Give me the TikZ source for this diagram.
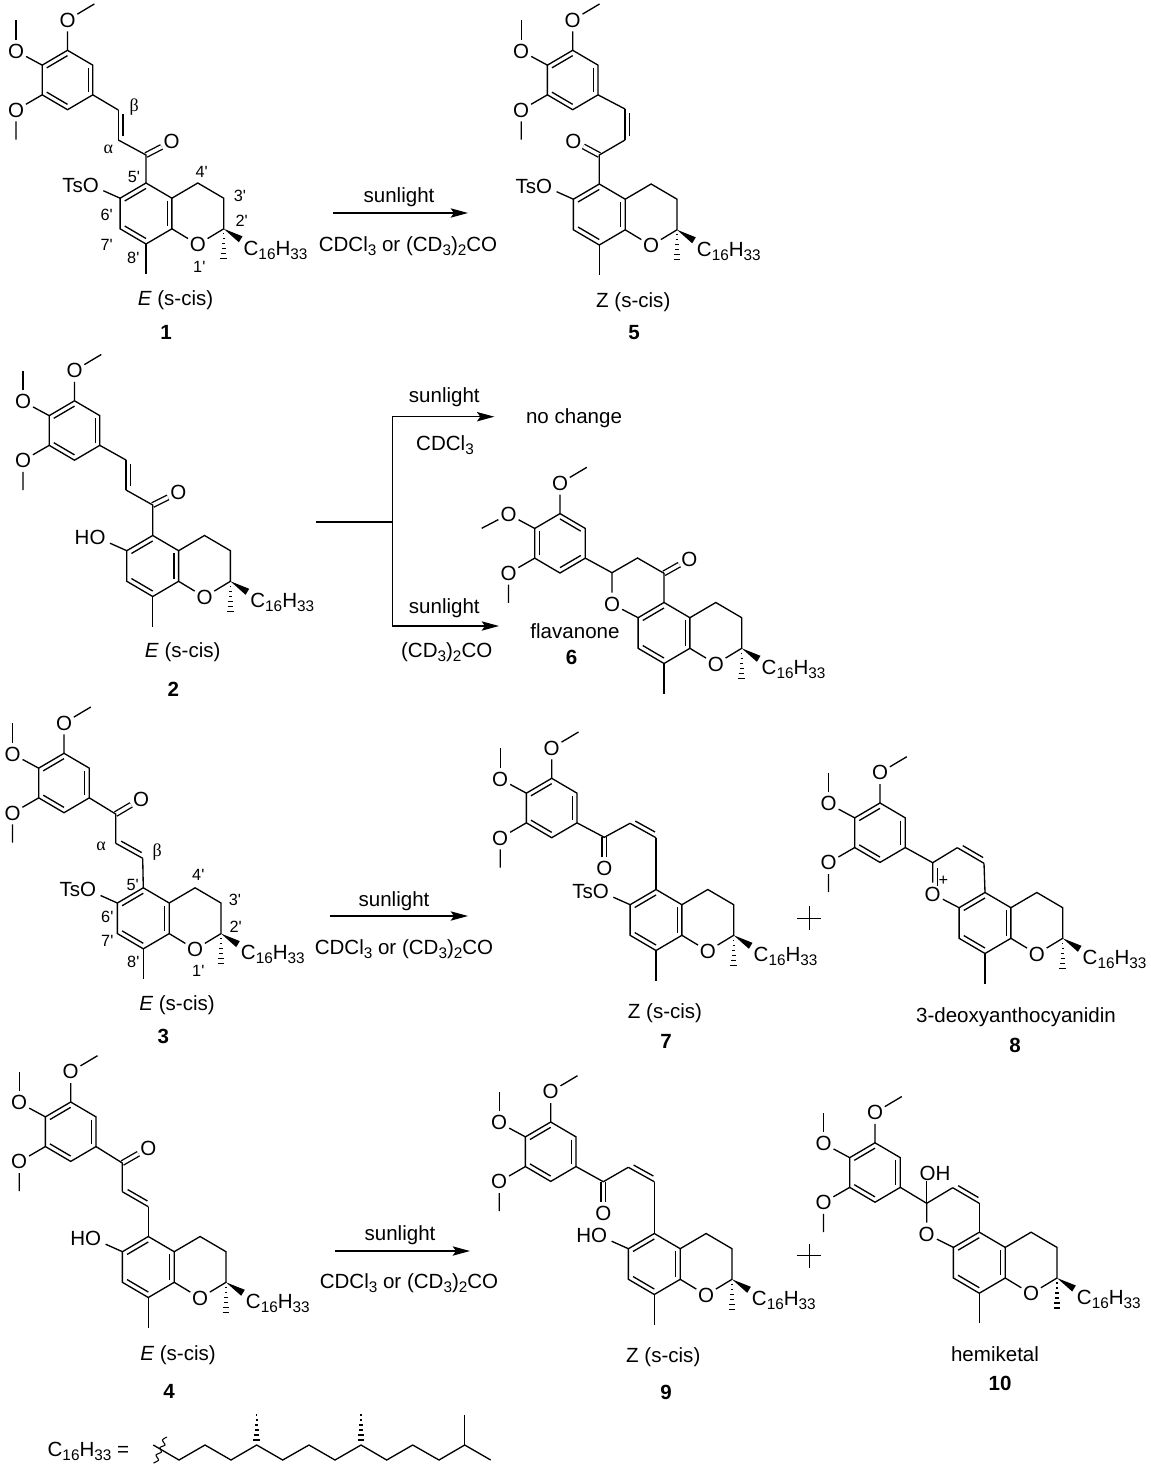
\documentclass[tikz,border=0pt]{standalone}
\usepackage{fontspec}
\setmainfont{Liberation Sans}
\newfontfamily\grkfont{Liberation Serif}
\usetikzlibrary{calc,arrows.meta}

\tikzset{every picture/.style={line width=1pt}}
\tikzset{
	atom/.style={circle,inner sep=0pt,font=\fontsize{15.4}{18}\selectfont},
	lab/.style={inner sep=0pt,font=\fontsize{15.4}{18}\selectfont},
	numlab/.style={inner sep=0pt,font=\fontsize{12.2}{14}\selectfont},
	grklab/.style={inner sep=0pt,font=\fontsize{13.5}{14}\selectfont\grkfont},
	rxn/.style={-{Stealth[length=13pt,width=7pt,inset=2.5pt]}},
	hash/.style={line width=0.8pt},
	cdouble/.style={double,double distance=2.6pt}
}

\newcommand{\sbs}[1]{\raisebox{-3pt}{\fontsize{11.5}{12}\selectfont #1}}
\newcommand{\prm}{\textquotesingle}
\newcommand{\inb}[3]{\draw ($(#1)!.18!(#3)$) -- ($(#2)!.18!(#3)$);}
\newcommand{\cdbl}[2]{\draw (#1) -- (#2); \draw ($(#1)!.12!(#2)!3.4pt!90:(#2)$) -- ($(#2)!.12!(#1)!3.4pt!-90:(#1)$);}

\newcommand{\arylatoms}{
	\coordinate (acen) at (0,0);
	\coordinate (a1) at (0,-29.7);
	\coordinate (a2) at (25.3,-14.85);
	\coordinate (a3) at (25.3,14.85);
	\coordinate (a4) at (0,29.7);
	\coordinate (a5) at (-25.3,14.85);
	\coordinate (a6) at (-25.3,-14.85);
	\node[atom] (otop) at (0,-60) {O};
	\node[atom] (oleft) at (-51.5,-29) {O};
	\node[atom] (olow) at (-51.5,30) {O};
	\coordinate (metop) at (26.8,-76);
	\coordinate (melow) at (-51.5,59.5);
	\draw (a1) -- (a2) -- (a3) -- (a4) -- (a5) -- (a6) -- cycle;
	\draw (a1) -- (otop) -- (metop);
	\draw (a6) -- (oleft);
	\draw (a5) -- (olow) -- (melow);
}
\newcommand{\arylA}[1]{
	\begin{scope}[shift={(#1)}]
		\arylatoms
		\coordinate (meleft) at (-51.5,-60);
		\draw (oleft) -- (meleft);
		\inb{a6}{a1}{acen}
		\inb{a2}{a3}{acen}
		\inb{a4}{a5}{acen}
	\end{scope}
}
\newcommand{\arylB}[1]{
	\begin{scope}[shift={(#1)}]
		\arylatoms
		\coordinate (meleft) at (-78.3,-15);
		\draw (oleft) -- (meleft);
		\inb{a1}{a2}{acen}
		\inb{a3}{a4}{acen}
		\inb{a5}{a6}{acen}
	\end{scope}
}
\newcommand{\chromane}[1]{
	\begin{scope}[shift={(#1)}]
		\coordinate (cen) at (0,0);
		\coordinate (c5) at (0,-30.5);
		\coordinate (c4a) at (25.9,-15.3);
		\coordinate (c8a) at (25.9,15.3);
		\coordinate (c8) at (0,30.5);
		\coordinate (c7) at (-25.9,15.3);
		\coordinate (c6) at (-25.9,-15.3);
		\coordinate (c4) at (51.8,-30.5);
		\coordinate (c3) at (77.7,-15.3);
		\coordinate (c2) at (77.7,15.3);
		\coordinate (me8) at (0,60.5);
		\coordinate (osub) at (-42.7,-22.8);
		\coordinate (subend) at (-46.5,-28.5);
		\node[atom] (o1) at (51.8,31) {O};
		\node[lab,anchor=base west] (chain) at (97,41.5) {C\sbs{16}H\sbs{33}};
		\draw (c5) -- (c4a) -- (c8a) -- (c8) -- (c7) -- (c6) -- cycle;
		\draw (c4a) -- (c4) -- (c3) -- (c2) -- (o1) -- (c8a);
		\draw (c8) -- (me8);
		\inb{c5}{c6}{cen}
		\inb{c4a}{c8a}{cen}
		\inb{c7}{c8}{cen}
		\fill (c2) -- (96.5,22.8) -- (92.9,28.8) -- cycle;
		\foreach \i in {1,...,6}
			\draw[hash] ({77.7-\i*.55},{15.3+\i*5}) -- ({77.7+\i*.55},{15.3+\i*5});
	\end{scope}
}
\newcommand{\sixsub}[1]{
	\node[lab,anchor=east] (sub) at (subend) {#1};
	\draw (c6) -- (osub);
}

\begin{document}
\begin{tikzpicture}[x=0.75pt,y=0.75pt,yscale=-1,xscale=1]
	\useasboundingbox (0,0) rectangle (1150,1470);

	% compound 1
	\begin{scope}[name prefix=m1-]
		\arylA{67.5,80}
		\chromane{146,213.5}
		\sixsub{TsO}
		\coordinate (cb) at (118.3,110);
		\coordinate (ca) at (118.3,140);
		\coordinate (co) at (146,155);
		\node[atom] (oc) at (171.7,141.7) {O};
		\draw[cdouble] (co) -- (oc);
		\draw (a3) -- (cb);
		\cdbl{ca}{cb}
		\draw (ca) -- (co) -- (c5);
		\node[grklab] (alpha) at (108.3,149.3) {α};
		\node[grklab] (beta) at (134.3,107.3) {β};
		\foreach \n/\x/\y in {1/199.3/267.3,2/241.7/221,3/240/195.7,4/201.7/171.7,5/134/176.7,6/106.7/215,7/106.7/245,8/133.3/258.3}
			\node[numlab] (n\n) at (\x,\y) {\n\prm};
		\node[lab] (form) at (175.5,300) {\textit{E} (s-cis)};
		\node[lab] (num) at (166,332.7) {\textbf{1}};
	\end{scope}

	% compound 5
	\begin{scope}[name prefix=m5-]
		\arylA{572.7,80}
		\chromane{599.3,214.5}
		\sixsub{TsO}
		\coordinate (cb) at (625,109);
		\coordinate (ca) at (625,140);
		\coordinate (co) at (599.3,155);
		\node[atom] (oc) at (573.3,141) {O};
		\draw[cdouble] (co) -- (oc);
		\draw (a3) -- (cb);
		\cdbl{ca}{cb}
		\draw (ca) -- (co) -- (c5);
		\node[lab] (form) at (633.3,301.7) {Z (s-cis)};
		\node[lab] (num) at (634,332.7) {\textbf{5}};
	\end{scope}

	% compound 2
	\begin{scope}[name prefix=m2-]
		\arylA{74.5,430.5}
		\chromane{152.7,566}
		\sixsub{HO}
		\coordinate (cb) at (126,460);
		\coordinate (ca) at (126,490);
		\coordinate (co) at (152.7,505);
		\node[atom] (oc) at (178.3,492.3) {O};
		\draw[cdouble] (co) -- (oc);
		\draw (a3) -- (cb);
		\cdbl{ca}{cb}
		\draw (ca) -- (co) -- (c5);
		\node[lab] (form) at (182.7,651.7) {\textit{E} (s-cis)};
		\node[lab] (num) at (173.3,689.3) {\textbf{2}};
	\end{scope}

	% compound 6
	\begin{scope}[name prefix=m6-]
		\arylB{560,543.3}
		\chromane{664,633}
		\coordinate (cx2) at (612,572.7);
		\coordinate (cx3) at (637.5,558);
		\coordinate (co) at (664,573.3);
		\node[atom] (oc) at (689.3,559) {O};
		\node[atom] (ox) at (612,604) {O};
		\draw[cdouble] (co) -- (oc);
		\draw (a3) -- (cx2) -- (cx3) -- (co) -- (c5);
		\draw (cx2) -- (ox) -- (c6);
		\node[lab] (form) at (575,630.7) {flavanone};
		\node[lab] (num) at (571.7,657.3) {\textbf{6}};
	\end{scope}

	% compound 3
	\begin{scope}[name prefix=m3-]
		\arylA{64,783}
		\chromane{143.3,918.3}
		\sixsub{TsO}
		\coordinate (co) at (115.7,814);
		\coordinate (ca) at (115.7,843.3);
		\coordinate (cb) at (142.7,858.3);
		\node[atom] (oc) at (141,799) {O};
		\draw[cdouble] (co) -- (oc);
		\draw (a3) -- (co) -- (ca);
		\cdbl{cb}{ca}
		\draw (cb) -- (c5);
		\node[grklab] (alpha) at (101,846) {α};
		\node[grklab] (beta) at (157.3,851.7) {β};
		\foreach \n/\x/\y in {1/198.3/970.7,2/235.7/927.3,3/235/900,4/198.3/875,5/132.7/885,6/107.3/916.7,7/107.3/941,8/133.3/962}
			\node[numlab] (n\n) at (\x,\y) {\n\prm};
		\node[lab] (form) at (177,1005) {\textit{E} (s-cis)};
		\node[lab] (num) at (163.3,1036) {\textbf{3}};
	\end{scope}

	% compound 7
	\begin{scope}[name prefix=m7-]
		\arylA{551.7,808}
		\chromane{656,920}
		\sixsub{TsO}
		\coordinate (co) at (604.3,837.3);
		\coordinate (ca) at (630,823.3);
		\coordinate (cb) at (656,837.7);
		\node[atom] (oc) at (604.3,868.3) {O};
		\draw[cdouble] (co) -- (oc);
		\draw (a3) -- (co) -- (ca);
		\cdbl{cb}{ca}
		\draw (cb) -- (c5);
		\node[lab] (form) at (665,1012.7) {Z (s-cis)};
		\node[lab] (num) at (666,1041.7) {\textbf{7}};
	\end{scope}

	% compound 8
	\begin{scope}[name prefix=m8-]
		\arylA{880,832.7}
		\chromane{985,923}
		\coordinate (cx2) at (932.7,862.7);
		\coordinate (cx3) at (957.3,847.7);
		\coordinate (cx4) at (984,863.3);
		\node[atom] (ox) at (932.7,894) {O};
		\draw (a3) -- (cx2) -- (cx3);
		\cdbl{cx4}{cx3}
		\draw (cx4) -- (c5);
		\draw (cx2) -- (ox) -- (c6);
		\draw ($(cx2)+(4.6,5)$) -- ($(cx2)+(4.6,23)$);
		\node[numlab] (chg) at (943.3,881) {+};
		\node[lab] (form) at (1016,1016.7) {3-deoxyanthocyanidin};
		\node[lab] (num) at (1015,1045) {\textbf{8}};
	\end{scope}

	% compound 4
	\begin{scope}[name prefix=m4-]
		\arylA{70.7,1131.7}
		\chromane{148.3,1267}
		\sixsub{HO}
		\coordinate (co) at (122.3,1163);
		\coordinate (ca) at (122.3,1191.7);
		\coordinate (cb) at (148.3,1206.7);
		\node[atom] (oc) at (148.3,1148) {O};
		\draw[cdouble] (co) -- (oc);
		\draw (a3) -- (co) -- (ca);
		\cdbl{cb}{ca}
		\draw (cb) -- (c5);
		\node[lab] (form) at (178,1355) {\textit{E} (s-cis)};
		\node[lab] (num) at (169,1391.7) {\textbf{4}};
	\end{scope}

	% compound 9
	\begin{scope}[name prefix=m9-]
		\arylA{550.7,1151.7}
		\chromane{654.3,1264}
		\sixsub{HO}
		\coordinate (co) at (603.3,1181.7);
		\coordinate (ca) at (628.3,1167.3);
		\coordinate (cb) at (654.3,1181.7);
		\node[atom] (oc) at (603.3,1213.3) {O};
		\draw[cdouble] (co) -- (oc);
		\draw (a3) -- (co) -- (ca);
		\cdbl{cb}{ca}
		\draw (cb) -- (c5);
		\node[lab] (form) at (663.3,1356.7) {Z (s-cis)};
		\node[lab] (num) at (666,1392.3) {\textbf{9}};
	\end{scope}

	% compound 10
	\begin{scope}[name prefix=m10-]
		\arylA{875,1172.5}
		\chromane{979.3,1262.7}
		\coordinate (cx2) at (926.7,1203.3);
		\coordinate (cx3) at (952.7,1187.7);
		\coordinate (cx4) at (979.3,1203.3);
		\coordinate (ohb) at (926.7,1181);
		\node[atom] (ox) at (926.7,1234) {O};
		\node[lab] (oh) at (935,1173) {OH};
		\draw (a3) -- (cx2) -- (cx3);
		\cdbl{cx4}{cx3}
		\draw (cx4) -- (c5);
		\draw (cx2) -- (ox) -- (c6);
		\draw (cx2) -- (ohb);
		\node[lab] (form) at (995,1354.3) {hemiketal};
		\node[lab] (num) at (1000,1383.3) {\textbf{10}};
	\end{scope}

	% arrows
	\coordinate (r1s) at (333,213);
	\coordinate (r1e) at (468,213);
	\draw[rxn] (r1s) -- (r1e);
	\node[lab] (r1top) at (399,197) {sunlight};
	\node[lab] (r1low) at (408,246.5) {CDCl\sbs{3} or (CD\sbs{3})\sbs{2}CO};

	\coordinate (r2s) at (316,522);
	\coordinate (r2m) at (392.7,522);
	\coordinate (r2t) at (392.7,416.7);
	\coordinate (r2b) at (392.7,626);
	\coordinate (r2te) at (494.3,416.7);
	\coordinate (r2be) at (499,626);
	\draw (r2s) -- (r2m);
	\draw[rxn] (r2m) -- (r2t) -- (r2te);
	\draw[rxn] (r2m) -- (r2b) -- (r2be);
	\node[lab] (r2top) at (444.3,397) {sunlight};
	\node[lab] (r2cd) at (445,445.5) {CDCl\sbs{3}};
	\node[lab] (r2nc) at (574,418.5) {no change};
	\node[lab] (r2sun) at (444.3,608) {sunlight};
	\node[lab] (r2ac) at (446.7,652) {(CD\sbs{3})\sbs{2}CO};

	\coordinate (r3s) at (330,916);
	\coordinate (r3e) at (468,916);
	\draw[rxn] (r3s) -- (r3e);
	\node[lab] (r3top) at (394,901) {sunlight};
	\node[lab] (r3low) at (404,949.5) {CDCl\sbs{3} or (CD\sbs{3})\sbs{2}CO};

	\coordinate (r4s) at (335,1251);
	\coordinate (r4e) at (470,1251);
	\draw[rxn] (r4s) -- (r4e);
	\node[lab] (r4top) at (400,1235) {sunlight};
	\node[lab] (r4low) at (409,1283.5) {CDCl\sbs{3} or (CD\sbs{3})\sbs{2}CO};

	% plus signs
	\draw (797.3,918.3) -- (821.3,918.3) (809.3,906.3) -- (809.3,930.3);
	\draw (797.3,1255.7) -- (821.3,1255.7) (809.3,1243.7) -- (809.3,1267.7);

	% side chain
	\node[lab,anchor=base west] (sidelab) at (47,1456.5) {C\sbs{16}H\sbs{33} =};
	\draw (153.3,1445) -- (179,1460) -- (205,1445) -- (231,1460) -- (256.7,1445) -- (282.7,1460) -- (309,1445) -- (335,1460) -- (361,1445) -- (386.7,1460) -- (412.7,1445) -- (439,1460) -- (464.7,1445) -- (490.7,1460);
	\draw (464.7,1445) -- (464.7,1415);
	\draw[line width=0.8pt] plot[smooth] coordinates {(167,1437) (162.5,1440) (165,1445) (160,1447.5) (161.5,1452) (156,1455) (158.5,1460) (153.5,1463)};
	\foreach \x in {256.7,361}
		\foreach \i in {1,...,6}
			\draw[hash] ({\x-(7-\i)*.55},{1445-\i*5}) -- ({\x+(7-\i)*.55},{1445-\i*5});

\end{tikzpicture}
\end{document}
